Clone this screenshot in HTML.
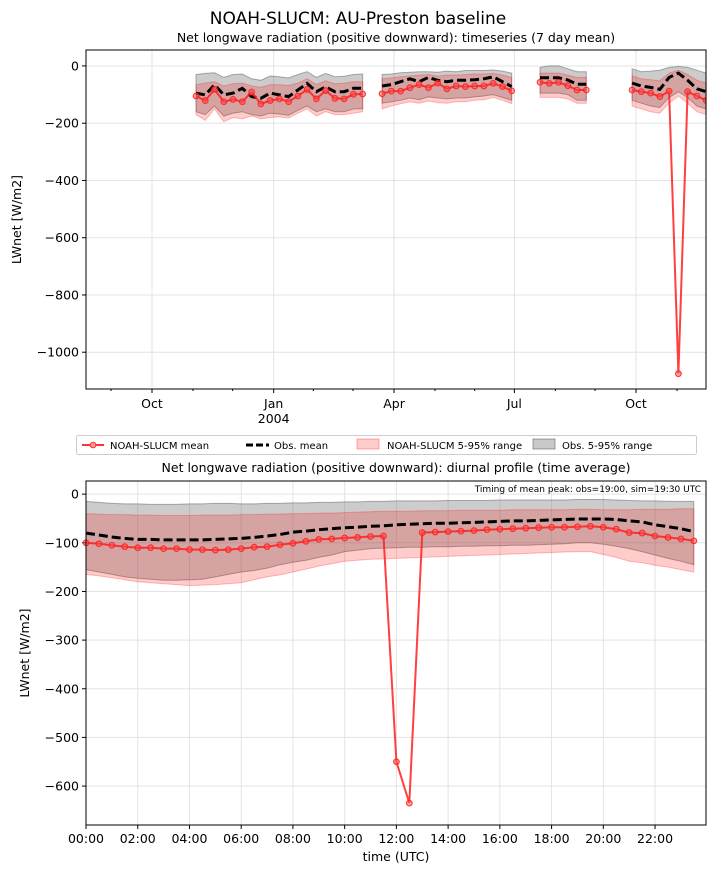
<!DOCTYPE html>
<html><head><meta charset="utf-8"><style>
body{margin:0;background:#fff;font-family:"Liberation Sans","DejaVu Sans",sans-serif}
svg text{font-family:"DejaVu Sans","Liberation Sans",sans-serif;fill:#000}
</style></head><body>
<svg id="s" width="716" height="873" viewBox="0 0 716 873">
<text x="358" y="24" text-anchor="middle" font-size="17">NOAH-SLUCM: AU-Preston baseline</text>
<text x="396" y="42" text-anchor="middle" font-size="12.5">Net longwave radiation (positive downward): timeseries (7 day mean)</text>
<text x="396" y="472" text-anchor="middle" font-size="12.5">Net longwave radiation (positive downward): diurnal profile (time average)</text>
<g id="top"></g>
<g id="bot"></g>
<g>
<rect x="76.5" y="435.5" width="620" height="19" rx="2" fill="#fff" stroke="#ccc"/>
<g><line x1="82" y1="445" x2="104" y2="445" stroke="#ff3333" stroke-width="2"/><circle cx="93" cy="445" r="2.8" fill="#ff9999" stroke="#ff3333"/><text x="110" y="449" font-size="10">NOAH-SLUCM mean</text></g>
<g><line x1="246" y1="445" x2="269" y2="445" stroke="#000" stroke-width="3" stroke-dasharray="7,3"/><text x="274" y="449" font-size="10">Obs. mean</text></g>
<g><rect x="357" y="439" width="22" height="10" fill="rgba(255,0,0,0.2)" stroke="rgba(255,0,0,0.3)"/><text x="387" y="449" font-size="10">NOAH-SLUCM 5-95% range</text></g>
<g><rect x="533" y="439" width="22" height="10" fill="rgba(100,100,100,0.35)" stroke="rgba(80,80,80,0.5)"/><text x="562" y="449" font-size="10">Obs. 5-95% range</text></g>
</g>
</svg>
<script>
// ---- top chart data (day offset from 2003-10-01, weekly segments) ----
const segStarts=[33.3,174,293.4,363];
const simSeg1=[-105,-121,-82,-125,-117,-125,-91,-133,-121,-115,-125,-105,-82,-115,-86,-113,-115,-99,-98];
const obsSeg1=[-95,-101,-66,-101,-95,-78,-107,-113,-95,-101,-107,-84,-61,-90,-73,-90,-90,-78,-78];
const simSeg2=[-97,-88,-88,-76,-65,-76,-60,-80,-70,-72,-70,-70,-61,-72,-87];
const obsSeg2=[-70,-65,-55,-45,-55,-40,-50,-55,-50,-50,-48,-45,-38,-55,-72];
const simSeg3=[-57,-61,-57,-69,-84,-84];
const obsSeg3=[-41,-41,-41,-49,-64,-64];
const simSeg4=[-84,-90,-95,-107,-88,-1075,-90,-105,-120];
const obsSeg4=[-60,-70,-75,-82,-40,-25,-50,-80,-90];
const obsHiTop=[-30,-26,-24,-40,-30,-28,-45,-50,-35,-38,-42,-30,-20,-40,-26,-38,-36,-30,-28, -30,-28,-24,-22,-20,-20,-22,-18,-20,-16,-16,-16,-14,-18,-25, -5,0,0,-10,-20,-20, -10,-20,-18,-15,-5,-2,-5,-15,-25];
const obsLoTop=[-160,-170,-140,-175,-165,-160,-170,-175,-165,-168,-172,-155,-140,-160,-150,-160,-160,-150,-150, -130,-125,-120,-112,-118,-108,-112,-115,-112,-112,-108,-105,-100,-110,-120, -95,-95,-95,-100,-120,-120, -120,-130,-140,-145,-110,-90,-110,-140,-150];
const simHiTop=[-65,-60,-55,-70,-62,-60,-70,-75,-65,-66,-68,-60,-45,-65,-52,-62,-60,-55,-55, -45,-42,-38,-35,-32,-30,-35,-32,-32,-30,-28,-28,-26,-32,-40, -25,-25,-25,-32,-40,-40, -35,-45,-48,-52,-25,-15,-30,-50,-60];
const simLoTop=[-170,-190,-150,-195,-180,-185,-175,-185,-180,-178,-182,-165,-150,-175,-160,-170,-170,-165,-160, -150,-140,-132,-125,-130,-122,-128,-130,-125,-125,-120,-118,-110,-120,-132, -110,-110,-110,-115,-130,-130, -140,-150,-160,-165,-130,-105,-130,-160,-170];
const topMonthLabels=["Oct","Jan","Apr","Jul","Oct"];
const topMonthDays=[0,92,183,274,366];
const topYTicks=[0,-200,-400,-600,-800,-1000];
// ---- bottom chart data (half-hourly) ----
const hours=[];for(let i=0;i<48;i++)hours.push(i*0.5);
const simMean=[-100,-102,-105,-108,-110,-110,-112,-112,-114,-114,-115,-114,-112,-109,-108,-104,-101,-97,-93,-92,-90,-89,-87,-86,-550,-635,-79,-78,-77,-76,-75,-73,-72,-71,-70,-69,-68,-68,-67,-66,-68,-72,-79,-80,-86,-89,-92,-96];
const obsMean=[-80,-84,-88,-91,-93,-93,-94,-94,-94,-94,-93,-92,-91,-89,-86,-83,-78,-76,-73,-71,-69,-68,-66,-65,-63,-62,-61,-60,-60,-59,-58,-57,-56,-55,-55,-54,-53,-52,-51,-51,-51,-52,-55,-57,-63,-67,-71,-77];
const obsHi=[-15,-17,-19,-20,-20,-21,-21,-21,-20,-20,-19,-19,-20,-20,-19,-19,-18,-18,-17,-17,-16,-16,-15,-15,-14,-14,-14,-14,-13,-13,-13,-13,-12,-12,-12,-12,-12,-12,-11,-11,-11,-12,-13,-14,-14,-15,-15,-15];
const obsLo=[-155,-160,-165,-170,-173,-175,-177,-177,-176,-175,-170,-165,-160,-157,-152,-145,-140,-136,-130,-125,-118,-115,-112,-111,-110,-109,-109,-108,-108,-107,-107,-106,-106,-105,-105,-104,-103,-102,-100,-100,-103,-107,-112,-118,-125,-132,-138,-145];
const simHi=[-40,-41,-42,-42,-43,-43,-44,-44,-44,-43,-43,-43,-42,-42,-41,-41,-40,-40,-39,-39,-38,-37,-36,-35,-35,-35,-34,-34,-34,-33,-33,-33,-33,-32,-32,-32,-32,-32,-31,-31,-32,-32,-32,-31,-31,-31,-30,-30];
const simLo=[-165,-168,-172,-176,-180,-182,-184,-186,-188,-187,-186,-184,-182,-176,-170,-166,-160,-154,-148,-143,-138,-136,-134,-133,-132,-131,-130,-129,-128,-127,-126,-125,-124,-123,-122,-121,-120,-119,-118,-118,-124,-130,-138,-141,-146,-150,-155,-160];
const botXTickHours=[0,2,4,6,8,10,12,14,16,18,20,22];
const botYTicks=[0,-100,-200,-300,-400,-500,-600];

const NS="http://www.w3.org/2000/svg";
function mk(p,t,a){const e=document.createElementNS(NS,t);for(const k in a)e.setAttribute(k,a[k]);p.appendChild(e);return e;}
function pathOf(xs,ys,fx,fy){return xs.map((x,i)=>(i?"L":"M")+fx(x).toFixed(1)+","+fy(ys[i]).toFixed(1)).join("");}
function band(g,xs,lo,hi,fx,fy,fill,stroke,name){
 const d=pathOf(xs,hi,fx,fy)+pathOf(xs.slice().reverse(),lo.slice().reverse(),fx,fy).replace("M","L")+"Z";
 const e=mk(g,"path",{d:d,fill:fill,stroke:stroke,"stroke-width":1});
 
 
}
function meanLines(g,xs,sim,obs,fx,fy,idx){
 const o=mk(g,"path",{d:pathOf(xs,obs,fx,fy),fill:"none",stroke:"#000","stroke-width":3,"stroke-dasharray":"9,4"});
 
 
 const s=mk(g,"path",{d:pathOf(xs,sim,fx,fy),fill:"none",stroke:"rgba(255,30,30,0.85)","stroke-width":2});
 
 
 xs.forEach((x,i)=>{const c=mk(g,"circle",{cx:fx(x),cy:fy(sim[i]),r:2.8,fill:"rgba(255,80,80,0.45)",stroke:"rgba(255,30,30,0.85)","stroke-width":1.2});
  
  });
}
// ---- top chart ----
(function(){
 const g=document.getElementById("top");
 const L=86,R=706,T=50,B=389,d0=-49.9,d1=418.9,v0=-1128.5,v1=55.7;
 const fx=d=>L+(d-d0)/(d1-d0)*(R-L), fy=v=>B-(v-v0)/(v1-v0)*(B-T);
 topYTicks.forEach(v=>{mk(g,"line",{x1:L,x2:R,y1:fy(v),y2:fy(v),stroke:"#e3e3e3"});
  mk(g,"line",{x1:L-4,x2:L,y1:fy(v),y2:fy(v),stroke:"#000"});
  const t=mk(g,"text",{x:L-7,y:fy(v)+4.5,"text-anchor":"end","font-size":12.5});t.textContent=v<0?"\u2212"+(-v):v;
  
  });
 topMonthDays.forEach((d,i)=>{const x=fx(d);mk(g,"line",{x1:x,x2:x,y1:T,y2:B,stroke:"#e3e3e3"});
  mk(g,"line",{x1:x,x2:x,y1:B,y2:B+4,stroke:"#000"});
  const t=mk(g,"text",{x:x,y:B+19,"text-anchor":"middle","font-size":12.5});t.textContent=topMonthLabels[i];
  
  });
 const yr=mk(g,"text",{x:fx(92),y:B+34,"text-anchor":"middle","font-size":12.5});yr.textContent="2004";
 const mstarts=[-61,-31,31,61,122,152,214,244,305,335,397];
 mstarts.forEach(d=>{if(d>d0&&d<d1)mk(g,"line",{x1:fx(d),x2:fx(d),y1:B,y2:B+2,stroke:"#000"});});
 const sims=[simSeg1,simSeg2,simSeg3,simSeg4],obss=[obsSeg1,obsSeg2,obsSeg3,obsSeg4];
 let off=0;
 sims.forEach((s,k)=>{const xs=s.map((_,i)=>segStarts[k]+7*i);
  const sl=a=>a.slice(off,off+s.length);
  band(g,xs,sl(obsLoTop),sl(obsHiTop),fx,fy,"rgba(100,100,100,0.33)","rgba(80,80,80,0.45)","obs-range-band-"+k);
  band(g,xs,sl(simLoTop),sl(simHiTop),fx,fy,"rgba(255,0,0,0.2)","rgba(255,0,0,0.25)","sim-range-band-"+k);
  off+=s.length;});
 const clip=mk(g,"clipPath",{id:"ct"});mk(clip,"rect",{x:L,y:T,width:R-L,height:B-T});
 const gl=mk(g,"g",{"clip-path":"url(#ct)"});
 sims.forEach((s,k)=>{const xs=s.map((_,i)=>segStarts[k]+7*i);meanLines(gl,xs,s,obss[k],fx,fy,k);});
 mk(g,"rect",{x:L,y:T,width:R-L,height:B-T,fill:"none",stroke:"#000"});
 const yl=mk(g,"text",{x:21,y:(T+B)/2,"text-anchor":"middle","font-size":12.5,transform:`rotate(-90 21 ${(T+B)/2})`});yl.textContent="LWnet [W/m2]";
 
 
})();
// ---- bottom chart ----
(function(){
 const g=document.getElementById("bot");
 const L=86,R=706,T=481,B=825,h0=0,h1=23.97,v0=-680,v1=27;
 const fx=h=>L+(h-h0)/(h1-h0)*(R-L), fy=v=>B-(v-v0)/(v1-v0)*(B-T);
 botYTicks.forEach(v=>{mk(g,"line",{x1:L,x2:R,y1:fy(v),y2:fy(v),stroke:"#e3e3e3"});
  mk(g,"line",{x1:L-4,x2:L,y1:fy(v),y2:fy(v),stroke:"#000"});
  const t=mk(g,"text",{x:L-7,y:fy(v)+4.5,"text-anchor":"end","font-size":12.5});t.textContent=v<0?"\u2212"+(-v):v;
  
  });
 botXTickHours.forEach(h=>{const x=fx(h);mk(g,"line",{x1:x,x2:x,y1:T,y2:B,stroke:"#e3e3e3"});
  mk(g,"line",{x1:x,x2:x,y1:B,y2:B+4,stroke:"#000"});
  const t=mk(g,"text",{x:x,y:B+18,"text-anchor":"middle","font-size":12.5});t.textContent=(h<10?"0":"")+h+":00";
  
  });
 band(g,hours,obsLo,obsHi,fx,fy,"rgba(100,100,100,0.33)","rgba(80,80,80,0.45)","obs-range-band");
 band(g,hours,simLo,simHi,fx,fy,"rgba(255,0,0,0.2)","rgba(255,0,0,0.25)","sim-range-band");
 meanLines(g,hours,simMean,obsMean,fx,fy,"diurnal");
 mk(g,"rect",{x:L,y:T,width:R-L,height:B-T,fill:"none",stroke:"#000"});
 const n=mk(g,"text",{x:R-5,y:T+11,"text-anchor":"end","font-size":9});n.textContent="Timing of mean peak: obs=19:00, sim=19:30 UTC";
 
 
 const yl=mk(g,"text",{x:29,y:(T+B)/2,"text-anchor":"middle","font-size":12.5,transform:`rotate(-90 29 ${(T+B)/2})`});yl.textContent="LWnet [W/m2]";
 
 
 const xl=mk(g,"text",{x:(L+R)/2,y:861,"text-anchor":"middle","font-size":12.5});xl.textContent="time (UTC)";
 
 
})();
</script>
</body></html>
